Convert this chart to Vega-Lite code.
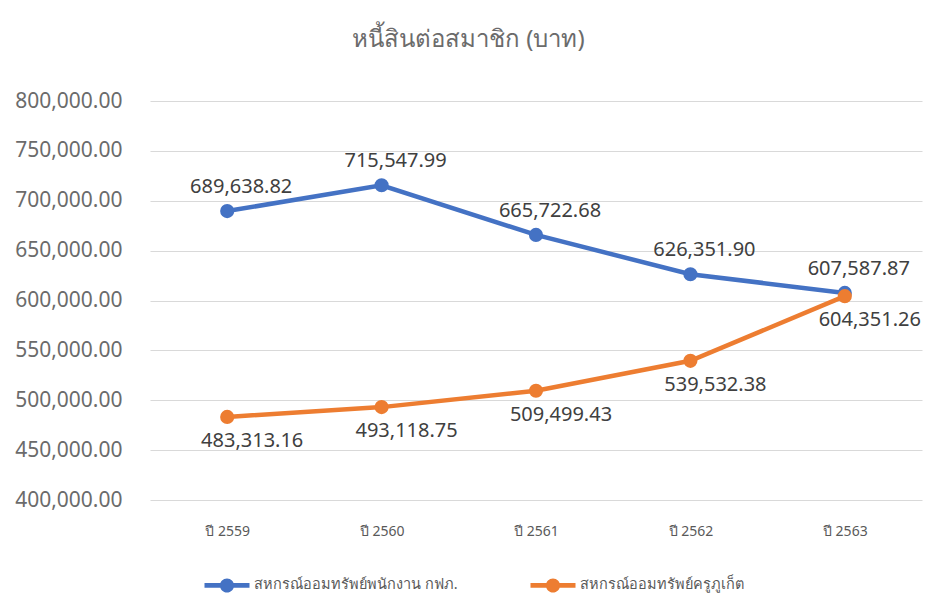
{
  "$schema": "https://vega.github.io/schema/vega-lite/v6.json",
  "width": 772,
  "height": 399,
  "autosize": "none",
  "padding": {"left": 150, "top": 101, "right": 4, "bottom": 97},
  "background": "white",
  "config": {
    "view": {"stroke": null},
    "font": "Noto Sans"
  },
  "title": {
    "text": "หนี้สินต่อสมาชิก (บาท)",
    "frame": "bounds",
    "anchor": "middle",
    "fontSize": 24,
    "fontWeight": "normal",
    "color": "#6b6b6b",
    "offset": 38
  },
  "data": {
    "values": [
      {"year": "ปี 2559", "series": "สหกรณ์ออมทรัพย์พนักงาน กฟภ.", "value": 689638.82},
      {"year": "ปี 2560", "series": "สหกรณ์ออมทรัพย์พนักงาน กฟภ.", "value": 715547.99},
      {"year": "ปี 2561", "series": "สหกรณ์ออมทรัพย์พนักงาน กฟภ.", "value": 665722.68},
      {"year": "ปี 2562", "series": "สหกรณ์ออมทรัพย์พนักงาน กฟภ.", "value": 626351.90},
      {"year": "ปี 2563", "series": "สหกรณ์ออมทรัพย์พนักงาน กฟภ.", "value": 607587.87},
      {"year": "ปี 2559", "series": "สหกรณ์ออมทรัพย์ครูภูเก็ต", "value": 483313.16},
      {"year": "ปี 2560", "series": "สหกรณ์ออมทรัพย์ครูภูเก็ต", "value": 493118.75},
      {"year": "ปี 2561", "series": "สหกรณ์ออมทรัพย์ครูภูเก็ต", "value": 509499.43},
      {"year": "ปี 2562", "series": "สหกรณ์ออมทรัพย์ครูภูเก็ต", "value": 539532.38},
      {"year": "ปี 2563", "series": "สหกรณ์ออมทรัพย์ครูภูเก็ต", "value": 604351.26}
    ]
  },
  "encoding": {
    "x": {
      "field": "year",
      "type": "ordinal",
      "scale": {"type": "point", "padding": 0.5},
      "axis": {
        "title": null,
        "labelAngle": 0,
        "labelFontSize": 14,
        "labelColor": "#595959",
        "labelPadding": 24,
        "ticks": false,
        "domain": false,
        "grid": false
      }
    },
    "y": {
      "field": "value",
      "type": "quantitative",
      "scale": {"domain": [400000, 800000], "nice": false, "zero": false},
      "axis": {
        "title": null,
        "values": [400000, 450000, 500000, 550000, 600000, 650000, 700000, 750000, 800000],
        "format": ",.2f",
        "labelFontSize": 21,
        "labelColor": "#6b6b6b",
        "labelPadding": 28,
        "ticks": false,
        "domain": false,
        "gridColor": "#D9D9D9",
        "gridWidth": 1
      }
    },
    "color": {
      "field": "series",
      "type": "nominal",
      "sort": ["สหกรณ์ออมทรัพย์พนักงาน กฟภ.", "สหกรณ์ออมทรัพย์ครูภูเก็ต"],
      "scale": {
        "domain": ["สหกรณ์ออมทรัพย์พนักงาน กฟภ.", "สหกรณ์ออมทรัพย์ครูภูเก็ต"],
        "range": ["#4472C4", "#ED7D31"]
      },
      "legend": {
        "title": null,
        "orient": "none",
        "legendX": 62,
        "legendY": 469,
        "direction": "horizontal",
        "labelFontSize": 14.5,
        "labelColor": "#595959",
        "labelLimit": 400,
        "symbolSize": 900,
        "symbolStrokeWidth": 0,
        "labelOffset": 12,
        "columnPadding": 72,
        "encode": {
          "symbols": {
            "update": {
              "shape": {"value": "M-1.5,-0.16 L1.5,-0.16 L1.5,0.16 L-1.5,0.16 Z M-0.47,0 A0.47,0.47 0 1,1 0.47,0 A0.47,0.47 0 1,1 -0.47,0 Z"},
              "strokeWidth": {"value": 0}
            }
          }
        }
      }
    }
  },
  "layer": [
    {"mark": {"type": "line", "strokeWidth": 4.5}},
    {"mark": {"type": "point", "filled": true, "size": 200, "opacity": 1}},
    {
      "transform": [{"filter": "datum.series === 'สหกรณ์ออมทรัพย์พนักงาน กฟภ.'"}],
      "mark": {"type": "text", "dx": 14, "dy": -24, "fontSize": 20, "color": "#404040"},
      "encoding": {
        "text": {"field": "value", "type": "quantitative", "format": ",.2f"},
        "color": {"value": "#404040"}
      }
    },
    {
      "transform": [{"filter": "datum.series === 'สหกรณ์ออมทรัพย์ครูภูเก็ต'"}],
      "mark": {"type": "text", "dx": 25, "dy": 24, "fontSize": 20, "color": "#404040"},
      "encoding": {
        "text": {"field": "value", "type": "quantitative", "format": ",.2f"},
        "color": {"value": "#404040"}
      }
    }
  ]
}
